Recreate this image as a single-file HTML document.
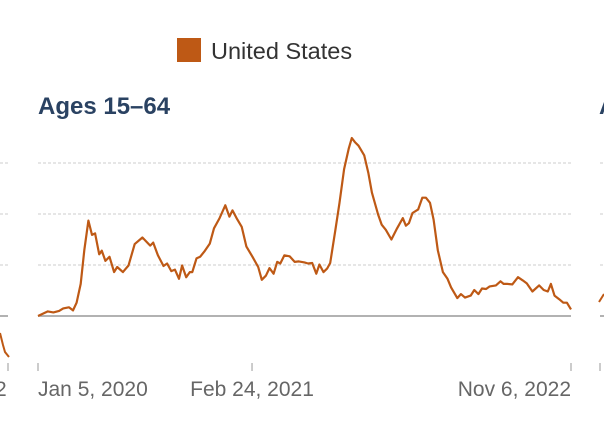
<!DOCTYPE html>
<html><head><meta charset="utf-8"><style>
html,body{margin:0;padding:0;background:#fff;}
body{width:604px;height:426px;overflow:hidden;font-family:"Liberation Sans",sans-serif;}
</style></head><body>
<svg id="chart" width="604" height="426" xmlns="http://www.w3.org/2000/svg">
<g>
<rect x="177" y="38" width="24" height="24" fill="#be5915"/>
<text x="211" y="59" font-size="23.5" fill="#333">United States</text>
</g>
<text x="38" y="114" font-size="24" font-weight="bold" fill="#2a4262">Ages 15–64</text>
<text x="599" y="114" font-size="24" font-weight="bold" fill="#2a4262">A</text>
<g id="grid"></g>
<g id="prev">
<line x1="0" y1="316" x2="8" y2="316" stroke="#999" stroke-width="1.5"/>
<polyline points="0,333 3,345 5,352 9,357" fill="none" stroke="#be5915" stroke-width="2"/>
<line x1="8" y1="363" x2="8" y2="371" stroke="#999" stroke-width="1"/>
<text x="-5" y="396" font-size="21" fill="#666">2</text>
</g>
<g>
<line x1="600" y1="316" x2="604" y2="316" stroke="#999" stroke-width="1.5"/>
<polyline points="599,302 604,294" fill="none" stroke="#be5915" stroke-width="2"/>
<line x1="600" y1="363" x2="600" y2="371" stroke="#999" stroke-width="1"/>
</g>
<line x1="38" y1="316" x2="571" y2="316" stroke="#999" stroke-width="1.5"/>
<g id="xaxis"></g>
<path id="line" fill="none" stroke="#be5915" stroke-width="2.2" stroke-linejoin="round"/>
</svg>
<script>
const days = [0,19,30,41,49,60,68,75,83,90,98,105,111,119,124,131,139,148,154,165,176,188,203,218,224,233,244,251,259,266,274,280,288,295,300,308,315,323,334,342,353,364,372,378,387,396,405,417,428,435,443,450,458,465,471,479,489,499,507,518,525,533,541,547,555,562,568,578,586,595,604,610,616,623,634,642,649,661,668,676,687,698,709,715,721,728,739,747,754,762,769,777,787,796,803,815,822,830,841,848,856,863,871,878,890,899,905,912,922,933,942,950,961,974,983,991,997,1004,1013,1021,1028,1036];
const values = [0,.09,.07,.1,.15,.17,.11,.26,.63,1.29,1.87,1.59,1.62,1.21,1.28,1.08,1.16,.86,.96,.86,.99,1.41,1.54,1.38,1.44,1.19,.98,1.03,.88,.91,.73,.99,.76,.86,.86,1.13,1.16,1.26,1.42,1.72,1.92,2.17,1.95,2.07,1.9,1.75,1.36,1.16,.96,.71,.79,.94,.83,1.06,1.03,1.19,1.17,1.06,1.07,1.05,1.03,1.04,.83,1.01,.86,.93,1.04,1.69,2.22,2.88,3.28,3.49,3.41,3.34,3.15,2.81,2.42,1.99,1.79,1.69,1.5,1.72,1.92,1.77,1.82,2.02,2.09,2.32,2.32,2.22,1.89,1.29,.86,.73,.56,.35,.43,.36,.4,.51,.43,.54,.53,.58,.6,.68,.63,.63,.62,.76,.7,.64,.48,.6,.51,.48,.63,.4,.33,.26,.26,.13];
const gridValues = [1,2,3];
const tickDays = [0,416,1036];
const tickLabels = ["Jan 5, 2020","Feb 24, 2021","Nov 6, 2022"];
const tickAnchors = ["start","middle","end"];

const X0=38,X1=571,Y0=316,UNIT=51,DMAX=1036;
const xs=d=>X0+(d/DMAX)*(X1-X0);
const ys=v=>Y0-v*UNIT;
const NS="http://www.w3.org/2000/svg";
const grid=document.getElementById('grid');
gridValues.forEach(g=>{
  [[X0,X1],[0,8],[600,604]].forEach(([a,b])=>{
    const l=document.createElementNS(NS,'line');
    
    
    l.setAttribute('x1',a);l.setAttribute('x2',b);
    l.setAttribute('y1',ys(g));l.setAttribute('y2',ys(g));
    l.setAttribute('stroke','#ccc');l.setAttribute('stroke-dasharray','3,2');
    grid.appendChild(l);
  });
});
const xa=document.getElementById('xaxis');
tickDays.forEach((d,i)=>{
  const t=document.createElementNS(NS,'line');
  
  
  t.setAttribute('x1',xs(d));t.setAttribute('x2',xs(d));
  t.setAttribute('y1',363);t.setAttribute('y2',371);t.setAttribute('stroke','#999');
  xa.appendChild(t);
  const tx=document.createElementNS(NS,'text');
  
  
  tx.setAttribute('x',xs(d));tx.setAttribute('y',396);
  tx.setAttribute('text-anchor',tickAnchors[i]);
  tx.setAttribute('font-size','21');tx.setAttribute('fill','#666');
  tx.textContent=tickLabels[i];
  xa.appendChild(tx);
});
document.getElementById('line').setAttribute('d',
  days.map((d,i)=>(i?'L':'M')+xs(d).toFixed(1)+','+ys(values[i]).toFixed(1)).join(''));
</script>
</body></html>
